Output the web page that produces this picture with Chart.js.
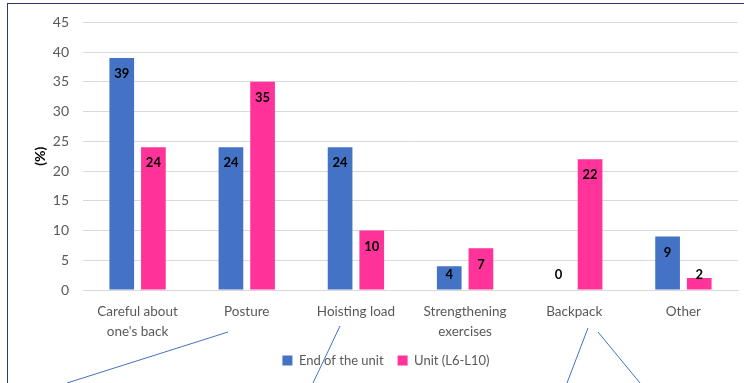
<!DOCTYPE html>
<html>
<head>
<meta charset="utf-8">
<script src="https://cdn.jsdelivr.net/npm/chart.js@4.4.1/dist/chart.umd.min.js"></script>
<style>
    html, body { margin: 0; padding: 0; background: #fff; }
    #wrap { position: relative; width: 744px; height: 383px; }
    #frame { position: absolute; left: 7px; top: 3px; right: 0; bottom: 0;
             border-left: 1px solid #2b3a67; border-top: 1px solid #2b3a67; pointer-events: none; }
</style>
</head>
<body>
<div id="wrap">
    <canvas id="effort-chart" width="744" height="383"></canvas>
    <div id="frame"></div>
</div>
<script>
    "use strict";

    const categories = [['Careful about', "one's back"], 'Posture', 'Hoisting load', ['Strengthening', 'exercises'], 'Backpack', 'Other'];
    const endOfUnit = [39, 24, 24, 4, 0, 9];
    const unitL6L10 = [24, 35, 10, 7, 22, 2];
    const seriesNames = ['End of the unit', 'Unit (L6-L10)'];
    const yMax = 45;
    const yStep = 5;

    const blue = '#4472C4';
    const pink = '#FF3399';

    // values written inside the top of each bar
    const barLabels = {
        id: 'barLabels',
        afterDatasetsDraw(chart) {
            const ctx = chart.ctx;
            ctx.save();
            ctx.font = 'bold 13px Lato';
            ctx.fillStyle = '#000';
            ctx.textAlign = 'center';
            ctx.textBaseline = 'middle';
            chart.data.datasets.forEach((ds, i) => {
                chart.getDatasetMeta(i).data.forEach((bar, j) => {
                    let y = Math.min(bar.y + 16, bar.base - 15);
                    ctx.fillText(ds.data[j], bar.x, y);
                });
            });
            ctx.restore();
        }
    };

    // legend sits a little right of centre in the original
    const nudgeLegend = {
        id: 'nudgeLegend',
        afterLayout(chart) {
            chart.legend.left += 17;
            chart.legend.right += 17;
        }
    };

    // stray callout strokes that cross the bottom of the picture
    const callouts = {
        id: 'callouts',
        afterDraw(chart) {
            const ctx = chart.ctx;
            const segs = [[228, 332, 67, 383], [340, 326, 313, 383], [588, 328, 567, 383], [598, 332, 640, 383]];
            ctx.save();
            ctx.strokeStyle = blue;
            ctx.lineWidth = 1;
            segs.forEach(s => {
                ctx.beginPath();
                ctx.moveTo(s[0], s[1]);
                ctx.lineTo(s[2], s[3]);
                ctx.stroke();
            });
            ctx.restore();
        }
    };

    new Chart(document.getElementById('effort-chart'), {
        type: 'bar',
        data: {
            labels: categories,
            datasets: [{
                label: seriesNames[0],
                data: endOfUnit,
                backgroundColor: blue,
                barPercentage: 0.78,
                categoryPercentage: 0.58
            }, {
                label: seriesNames[1],
                data: unitL6L10,
                backgroundColor: pink,
                barPercentage: 0.78,
                categoryPercentage: 0.58
            }]
        },
        options: {
            responsive: false,
            animation: false,
            layout: {
                padding: { left: 0, right: 6, top: 16, bottom: 6 }
            },
            plugins: {
                legend: {
                    position: 'bottom',
                    labels: {
                        boxWidth: 10,
                        boxHeight: 10,
                        padding: 14,
                        color: '#595959',
                        font: { family: 'Lato', size: 13 }
                    }
                },
                tooltip: { enabled: false }
            },
            scales: {
                x: {
                    afterFit(scale) { scale.height = 50; },
                    grid: { display: false },
                    border: { display: true, color: '#d9d9d9' },
                    ticks: {
                        color: '#595959',
                        padding: 4,
                        maxRotation: 0,
                        autoSkip: false,
                        font: { family: 'Lato', size: 13.5, lineHeight: 1.45 }
                    }
                },
                y: {
                    min: 0,
                    max: yMax,
                    afterFit(scale) { scale.width = 83; },
                    grid: { color: '#d9d9d9', drawTicks: false },
                    border: { display: false },
                    ticks: {
                        stepSize: yStep,
                        color: '#595959',
                        padding: 14,
                        font: { family: 'Lato', size: 14 }
                    },
                    title: {
                        display: true,
                        text: '(%)',
                        color: '#000',
                        padding: { top: 32, bottom: 0 },
                        font: { family: 'Lato', size: 14, weight: 'bold' }
                    }
                }
            }
        },
        plugins: [barLabels, nudgeLegend, callouts]
    });
</script>
</body>
</html>
